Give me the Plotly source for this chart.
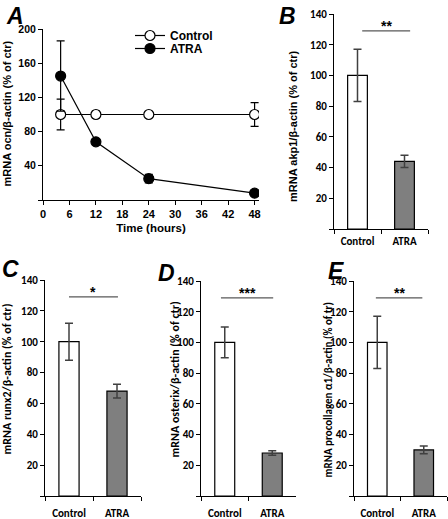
import plotly.graph_objects as go

W, H = 448, 519

# ---------------- data ----------------
time_h = [4, 12, 24, 48]
ctrl_ocn = [100, 100, 100, 100]
ctrl_ocn_err = [18, 4, 3.5, 14]
atra_ocn = [145, 68, 25, 8]
atra_ocn_err = [41, 3, 5, 2]

groups = ["Control", "ATRA"]
akp1 = [100, 44]
akp1_err = [17, 4]
runx2 = [100, 68]
runx2_err = [12, 4.5]
osterix = [100, 28]
osterix_err = [10, 1.5]
procol = [100, 30]
procol_err = [17, 2.5]
sig_labels = ["**", "*", "***", "**"]

time_ticks = [0, 6, 12, 18, 24, 30, 36, 42, 48]
a_yticks = [0, 40, 80, 120, 160, 200]
a_yticktext = ["", "40", "80", "120", "160", "200"]
bar_yticks = [0, 20, 40, 60, 80, 100, 120, 140]
bar_yticktext = ["", "20", "40", "60", "80", "100", "120", "140"]

panel_letters = ["A", "B", "C", "D", "E"]
ytitles = ["mRNA ocn/β-actin (% of ctr)",
           "mRNA akp1/β-actin (% of ctr)",
           "mRNA runx2/β-actin (% of ctr)",
           "mRNA osterix/β-actin (% of ctr)",
           "mRNA procollagen α1/β-actin (% of tr)"]

# ---------------- styling ----------------
ARIAL = "Liberation Sans, Arial, sans-serif"
CALIB = "Carlito, Lato, sans-serif"
BAR_COLORS = ["white", "#7f7f7f"]
ERR_COLOR = "#404040"


def xd(l, r):
    return [l / W, r / W]


def yd(top, bottom):
    return [1 - bottom / H, 1 - top / H]


fig = go.Figure()

# Panel A
fig.add_trace(go.Scatter(
    x=time_h, y=ctrl_ocn, name="Control", mode="lines+markers",
    line=dict(color="black", width=1.2),
    marker=dict(symbol="circle", size=10, color="white", line=dict(color="black", width=1.2)),
    error_y=dict(type="data", array=ctrl_ocn_err, color="black", thickness=1.2, width=4),
    xaxis="x", yaxis="y", legend="legend"))
fig.add_trace(go.Scatter(
    x=time_h, y=atra_ocn, name="ATRA", mode="lines+markers",
    line=dict(color="black", width=1.2),
    marker=dict(symbol="circle", size=10, color="black", line=dict(color="black", width=1.2)),
    error_y=dict(type="data", array=atra_ocn_err, color="black", thickness=1.2, width=4),
    xaxis="x", yaxis="y", legend="legend2"))

bar_sets = [(akp1, akp1_err), (runx2, runx2_err), (osterix, osterix_err), (procol, procol_err)]
for i, (vals, errs) in enumerate(bar_sets):
    k = i + 2
    fig.add_trace(go.Bar(
        x=groups, y=vals, width=0.42,
        marker=dict(color=BAR_COLORS, line=dict(color="black", width=1.2)),
        error_y=dict(type="data", array=errs, color=ERR_COLOR, thickness=1.5, width=4),
        xaxis=f"x{k}", yaxis=f"y{k}", showlegend=False))

leg_font = dict(family=ARIAL, size=12, color="black", weight="bold")
layout = dict(
    width=W, height=H, margin=dict(l=0, r=0, t=0, b=0, autoexpand=False),
    paper_bgcolor="white", plot_bgcolor="white",
    showlegend=True,
    legend=dict(x=130 / W, y=1 - 21 / H, xanchor="left", yanchor="top",
                bgcolor="rgba(0,0,0,0)", font=leg_font, itemwidth=30),
    legend2=dict(x=130 / W, y=1 - 34 / H, xanchor="left", yanchor="top",
                 bgcolor="rgba(0,0,0,0)", font=leg_font, itemwidth=30),
)

axis_common = dict(showline=True, linecolor="black", linewidth=1, ticks="outside",
                   ticklen=4, tickwidth=1, tickcolor="black", showgrid=False, zeroline=False)

layout["xaxis"] = dict(axis_common, domain=xd(43, 259), range=[0, 49], tickvals=time_ticks,
                       anchor="y", tickfont=dict(family=ARIAL, size=11, color="black", weight="bold"),
                       title=dict(text="Time (hours)", font=dict(family=ARIAL, size=11.5, color="black", weight="bold"),
                                  standoff=4))
layout["yaxis"] = dict(axis_common, domain=yd(29, 200), range=[0, 200], tickvals=a_yticks,
                       ticktext=a_yticktext, anchor="x",
                       tickfont=dict(family=ARIAL, size=10.5, color="black", weight="bold"))

bar_boxes = [((334, 428), (14, 229)), ((45, 141), (280, 496)),
             ((201, 296), (281, 496)), ((354, 447), (281, 496))]
label_standoff = [2, 7, 7, 7]
for i, ((l, r), (t, b)) in enumerate(bar_boxes):
    k = i + 2
    layout[f"xaxis{k}"] = dict(axis_common, domain=xd(l, r), type="category", range=[-0.5, 1.5],
                               tickson="boundaries", anchor=f"y{k}", ticklabelstandoff=label_standoff[i],
                               tickfont=dict(family=CALIB, size=11, color="black", weight="bold"))
    layout[f"yaxis{k}"] = dict(axis_common, domain=yd(t, b), range=[0, 140], tickvals=bar_yticks,
                               ticktext=bar_yticktext, anchor=f"x{k}",
                               tickfont=dict(family=CALIB, size=11, color="black", weight="bold"))

fig.update_layout(**layout)

# significance lines and stars
sig_x = [(0.1, 1.12), (0, 1.02), (-0.08, 1.02), (-0.03, 0.97)]
for i, lab in enumerate(sig_labels):
    k = i + 2
    x0, x1 = sig_x[i]
    fig.add_shape(type="line", xref=f"x{k}", yref=f"y{k}", x0=x0, x1=x1, y0=129, y1=129,
                  line=dict(color="#595959", width=1.2))
    fig.add_annotation(x=(x0 + x1) / 2, y=129, xref=f"x{k}", yref=f"y{k}", text=lab, showarrow=False,
                       yanchor="bottom", yshift=-5, font=dict(family=ARIAL, size=14, color="black", weight="bold"))

# panel letters
letter_pos = [(4, 1), (277, 1), (0, 254), (156, 258), (326, 256)]
for lab, (px, py) in zip(panel_letters, letter_pos):
    fig.add_annotation(x=px / W, y=1 - py / H, xref="paper", yref="paper", text=lab, showarrow=False,
                       xanchor="left", yanchor="top",
                       font=dict(family=ARIAL, size=23, color="black", weight="bold", style="italic"))

# y titles
title_pos = [(6.5, 114), (293, 127), (6.5, 379), (174.5, 380), (327.5, 390)]
title_fonts = [ARIAL, ARIAL, CALIB, CALIB, CALIB]
title_sizes = [11, 11, 12, 12, 11]
for txt, (px, py), fam, sz in zip(ytitles, title_pos, title_fonts, title_sizes):
    fig.add_annotation(x=px / W, y=1 - py / H, xref="paper", yref="paper", text=txt, showarrow=False,
                       textangle=-90, xanchor="center", yanchor="middle",
                       font=dict(family=fam, size=sz, color="black", weight="bold"))

fig.write_html("out.html", config={"displayModeBar": False},
               post_script="document.body.style.margin='0';")
